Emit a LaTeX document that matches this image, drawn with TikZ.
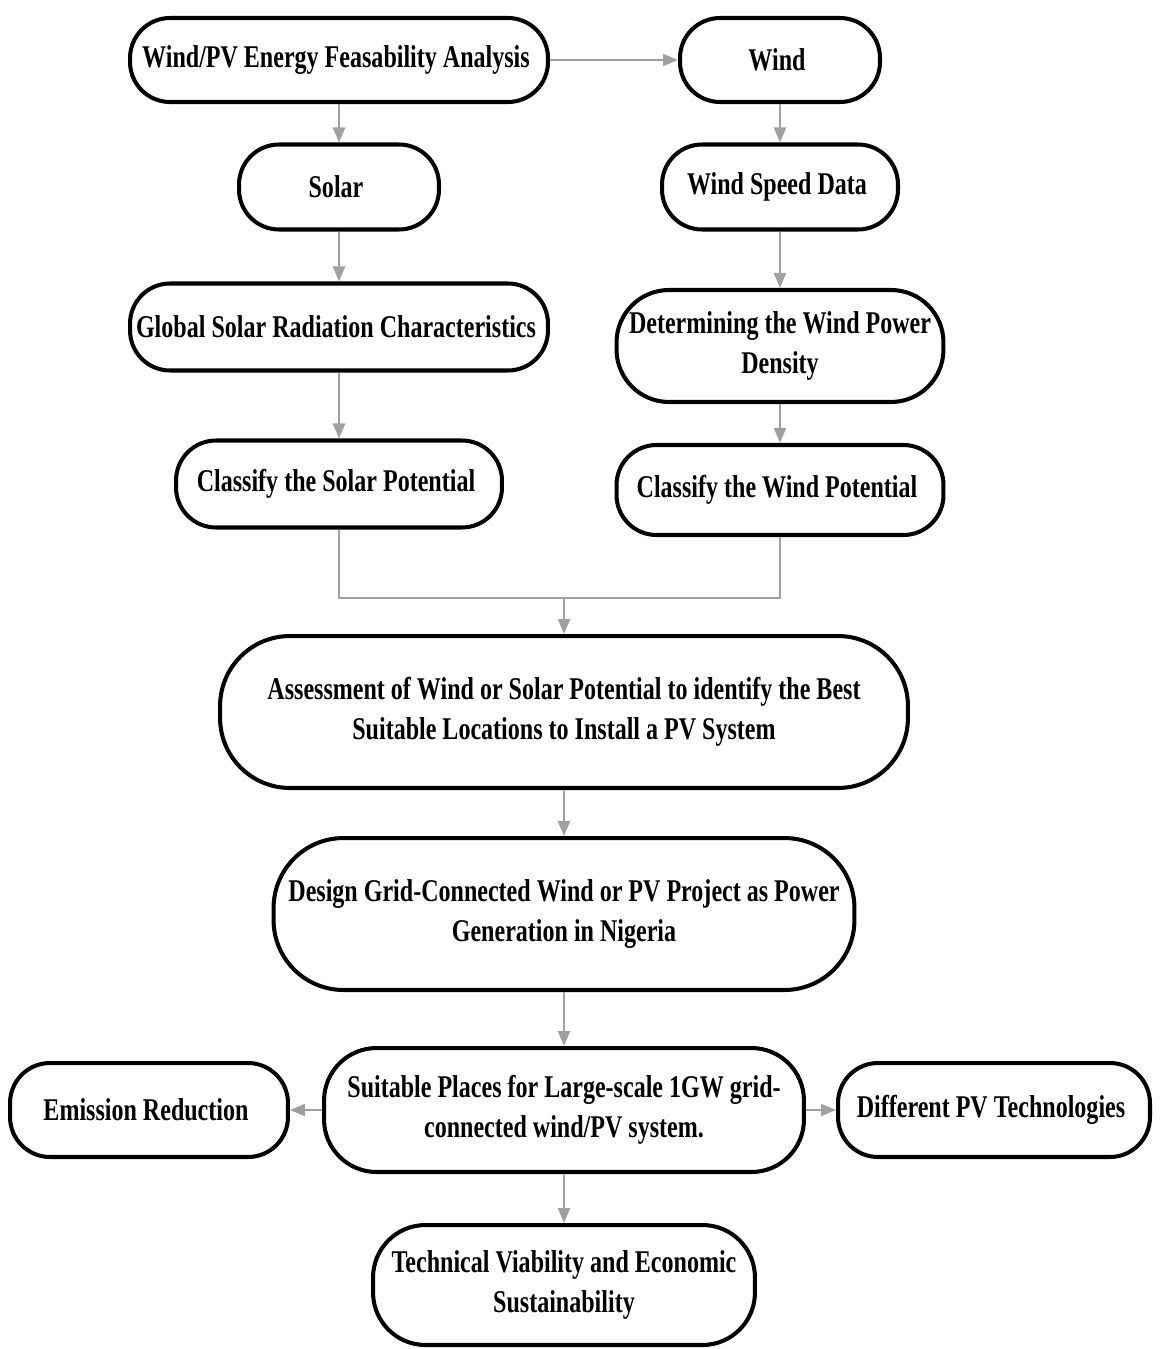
\documentclass[tikz,border=0pt]{standalone}
\usepackage{fontspec}
\setmainfont{Liberation Serif}[FakeStretch=0.76]
\usepackage{tikz}
\usetikzlibrary{
  positioning, calc, arrows.meta, shapes.misc
}
\definecolor{arrowgray}{HTML}{A0A0A0}
\tikzset{
	flownode/.style={
			rectangle,
			rounded corners=0.8cm,
			draw=black,
			line width=2.3pt,
			fill=white,
			align=center,
			font=\bfseries\fontsize{18}{22.7}\selectfont,
			inner sep=0pt
		},
	bignode/.style={
			flownode,
			rounded corners=1.05cm
		},
	hugenode/.style={
			flownode,
			rounded corners=1.4cm
		},
	flowarrow/.style={
			draw=arrowgray,
			line width=1.2pt,
			-{Triangle[length=3mm, width=2.4mm]}
		},
	flowline/.style={
			draw=arrowgray,
			line width=1.2pt
		}
}

\begin{document}
\begin{tikzpicture}[x=0.02cm, y=-0.02cm]
\useasboundingbox (0,0) rectangle (1161,1349);
\node[flownode, minimum width=8.36cm, minimum height=1.68cm] (n1) at (339,60)  { Wind/PV Energy Feasability Analysis };
\node[flownode, minimum width=4cm, minimum height=1.68cm] (n2) at (780,60)  { Wind };
\node[flownode, minimum width=4cm, minimum height=1.7cm] (n3) at (339,187)  { Solar };
\node[flownode, minimum width=4.72cm, minimum height=1.7cm] (n4) at (780,187)  { Wind Speed Data };
\node[flownode, minimum width=8.36cm, minimum height=1.74cm] (n5) at (339,327)  { Global Solar Radiation Characteristics };
\node[bignode, minimum width=6.54cm, minimum height=2.24cm] (n6) at (780,346)  { Determining the Wind Power\\ Density };
\node[flownode, minimum width=6.52cm, minimum height=1.74cm] (n7) at (339,484)  { Classify the Solar Potential };
\node[flownode, minimum width=6.54cm, minimum height=1.8cm] (n8) at (780,490)  { Classify the Wind Potential };
\coordinate (j1) at (564,598);
\node[hugenode, minimum width=13.76cm, minimum height=3.04cm] (n10) at (564,712)  { Assessment of Wind or Solar Potential to identify the Best\\ Suitable Locations to Install a PV System };
\node[hugenode, minimum width=11.62cm, minimum height=3.04cm] (n11) at (564,914)  { Design Grid-Connected Wind or PV Project as Power\\ Generation in Nigeria };
\node[bignode, minimum width=9.6cm, minimum height=2.48cm] (n12) at (564,1110)  { Suitable Places for Large-scale 1GW grid-\\ connected wind/PV system. };
\node[flownode, minimum width=5.56cm, minimum height=1.88cm] (n13) at (149,1110)  { Emission Reduction };
\node[flownode, minimum width=6.24cm, minimum height=1.88cm] (n14) at (994,1110)  { Different PV Technologies };
\node[bignode, minimum width=7.64cm, minimum height=2.4cm] (n15) at (564,1285)  { Technical Viability and Economic\\ Sustainability };

\draw[flowarrow] (n1) -- (n2);
\draw[flowarrow] (n1) -- (n3);
\draw[flowarrow] (n3) -- (n5);
\draw[flowarrow] (n5) -- (n7);

\draw[flowarrow] (n2) -- (n4);
\draw[flowarrow] (n4) -- (n6);
\draw[flowarrow] (n6) -- (n8);

\draw[flowline] (n7.south) |- (j1) -| (n8.south);
\draw[flowarrow] (j1) -- (n10.north);

\draw[flowarrow] (n10) -- (n11);
\draw[flowarrow] (n11) -- (n12);
\draw[flowarrow] (n12) -- (n13);
\draw[flowarrow] (n12) -- (n14);
\draw[flowarrow] (n12) -- (n15);
\end{tikzpicture}
\end{document}
